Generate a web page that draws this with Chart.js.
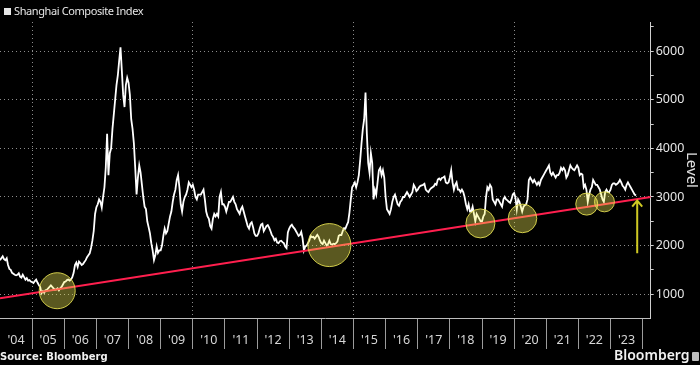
<!DOCTYPE html>
<html>
<head>
<meta charset="utf-8">
<script src="https://cdn.jsdelivr.net/npm/chart.js@4.4.0/dist/chart.umd.min.js"></script>
<style>
  body { margin: 0; background: #000; }
  #wrap { position: relative; width: 700px; height: 365px; background: #000; overflow: hidden; }
  #chart { position: absolute; left: 0; top: 0; }
  .legend { position: absolute; left: 4px; top: 3px; font: 11px 'Noto Sans', sans-serif; letter-spacing: -0.4px; color: #e6e6e6; white-space: nowrap; }
  .legend .sw { display: inline-block; width: 7px; height: 7px; background: #e6e6e6; margin-right: 3px; vertical-align: 0; }
  .source { position: absolute; left: 0; top: 351px; font: bold 10px 'DejaVu Sans', sans-serif; color: #f0f0f0; white-space: nowrap; }
  .brand { position: absolute; left: 614px; top: 345px; font: 600 14px 'Noto Sans', sans-serif; color: #f2f2f2; white-space: nowrap; }
  .brand .icon { position: absolute; left: 78px; top: 7px; width: 7px; height: 9px; background: #bdbdbd; border-radius: 1px; }
</style>
</head>
<body>
<div id="wrap">
  <canvas id="chart" width="700" height="365"></canvas>
  <div class="legend"><span class="sw"></span>Shanghai Composite Index</div>
  <div class="source">Source: Bloomberg</div>
  <div class="brand">Bloomberg<span class="icon"></span></div>
</div>
<script>
// Shanghai Composite, two readings per month
const s2004 = [1700, 1740, 1780, 1720, 1700, 1740, 1600, 1520, 1500, 1440, 1420, 1400, 1390, 1400, 1430, 1360, 1340, 1400, 1350, 1300, 1330, 1280, 1290, 1260];
const s2005 = [1250, 1230, 1270, 1300, 1240, 1190, 1150, 1020, 1060, 1030, 1080, 1090, 1120, 1150, 1180, 1150, 1120, 1090, 1100, 1120, 1080, 1120, 1150, 1200];
const s2006 = [1250, 1260, 1290, 1300, 1280, 1300, 1350, 1440, 1600, 1650, 1560, 1670, 1640, 1600, 1620, 1660, 1700, 1760, 1800, 1840, 1950, 2100, 2300, 2650];
const s2007 = [2790, 2850, 2950, 2900, 2780, 3000, 3200, 3600, 4300, 3450, 3900, 4000, 4400, 4700, 5000, 5300, 5500, 5800, 6080, 5600, 5100, 4850, 5300, 5450];
const s2008 = [5350, 5100, 4600, 4400, 4100, 3600, 3050, 3400, 3650, 3500, 3250, 3000, 2800, 2750, 2500, 2380, 2250, 2050, 1900, 1700, 1800, 1980, 1850, 1900];
const s2009 = [1900, 2000, 2200, 2350, 2250, 2300, 2450, 2600, 2700, 2900, 3050, 3150, 3350, 3450, 3200, 2850, 2700, 2900, 3000, 3050, 3150, 3300, 3250, 3200];
const s2010 = [3250, 3150, 3000, 2950, 3050, 3050, 3050, 3100, 3150, 2950, 2700, 2600, 2550, 2400, 2350, 2550, 2650, 2600, 2650, 2600, 3000, 3100, 2850, 2850];
const s2011 = [2800, 2700, 2800, 2900, 2900, 2950, 3000, 2900, 2850, 2750, 2700, 2650, 2750, 2800, 2700, 2600, 2500, 2400, 2350, 2450, 2480, 2380, 2250, 2200];
const s2012 = [2200, 2250, 2350, 2430, 2450, 2300, 2350, 2400, 2420, 2370, 2300, 2220, 2180, 2110, 2140, 2060, 2050, 2090, 2100, 2070, 2050, 1980, 1950, 2270];
const s2013 = [2350, 2400, 2430, 2380, 2350, 2300, 2250, 2200, 2220, 2280, 2150, 1900, 1980, 2000, 2050, 2100, 2200, 2170, 2180, 2140, 2180, 2220, 2180, 2100];
const s2014 = [2050, 2030, 2100, 2050, 2000, 2030, 2100, 2030, 2020, 2040, 2030, 2050, 2080, 2200, 2220, 2217, 2300, 2360, 2350, 2420, 2480, 2680, 2950, 3200];
const s2015 = [3250, 3300, 3200, 3300, 3450, 3750, 4100, 4400, 4600, 5150, 4300, 3700, 3500, 3900, 3700, 2950, 3150, 3050, 3300, 3550, 3600, 3450, 3550, 3400];
const s2016 = [3000, 2750, 2700, 2650, 2750, 2900, 3000, 3050, 2950, 2850, 2820, 2900, 2930, 3000, 3000, 3050, 3100, 3050, 3000, 3050, 3100, 3250, 3200, 3120];
const s2017 = [3150, 3200, 3230, 3240, 3250, 3270, 3150, 3120, 3100, 3150, 3180, 3200, 3220, 3270, 3250, 3360, 3380, 3350, 3390, 3400, 3420, 3300, 3280, 3300];
const s2018 = [3400, 3550, 3300, 3150, 3250, 3300, 3150, 3150, 3100, 3150, 3100, 3000, 2850, 2750, 2850, 2700, 2700, 2800, 2650, 2500, 2650, 2600, 2550, 2500];
const s2019 = [2500, 2600, 2650, 3000, 3200, 3150, 3250, 3200, 2950, 2900, 2850, 2950, 2950, 2900, 2850, 2800, 2950, 3000, 2950, 2930, 2900, 2880, 2950, 3050];
const s2020 = [3080, 2980, 2750, 2950, 2900, 2800, 2700, 2800, 2830, 2850, 2950, 3350, 3400, 3350, 3300, 3350, 3300, 3250, 3300, 3250, 3350, 3400, 3450, 3500];
const s2021 = [3550, 3600, 3650, 3500, 3450, 3500, 3450, 3400, 3450, 3450, 3500, 3600, 3550, 3600, 3550, 3400, 3450, 3550, 3650, 3600, 3570, 3550, 3600, 3650];
const s2022 = [3600, 3450, 3480, 3460, 3200, 3250, 3150, 2900, 3050, 3150, 3200, 3350, 3300, 3250, 3250, 3200, 3150, 3050, 2950, 2900, 3100, 3150, 3100, 3100];
const s2023 = [3150, 3250, 3280, 3280, 3250, 3270, 3300, 3350, 3300, 3230, 3200, 3150, 3250, 3300, 3250, 3200, 3150, 3100, 3050, 3030];

const years = [2004, 2005, 2006, 2007, 2008, 2009, 2010, 2011, 2012, 2013,
               2014, 2015, 2016, 2017, 2018, 2019, 2020, 2021, 2022, 2023];
const yearly = [s2004, s2005, s2006, s2007, s2008, s2009, s2010, s2011, s2012, s2013,
                s2014, s2015, s2016, s2017, s2018, s2019, s2020, s2021, s2022, s2023];

// axis ticks
const yearTicks = [2004, 2005, 2006, 2007, 2008, 2009, 2010, 2011, 2012, 2013, 2014,
                   2015, 2016, 2017, 2018, 2019, 2020, 2021, 2022, 2023, 2024];
const yearLabels = ["'04", "'05", "'06", "'07", "'08", "'09", "'10", "'11", "'12", "'13",
                    "'14", "'15", "'16", "'17", "'18", "'19", "'20", "'21", "'22", "'23"];
const levelTicks = [1000, 1500, 2000, 2500, 3000, 3500, 4000, 4500, 5000, 5500, 6000, 6500];

// red support line
const trendYears = [2004, 2024.25];
const trendLevels = [915, 3000];

// highlighted touches of the support line
const ringYears = [2005.78, 2014.25, 2018.95, 2020.26, 2022.26, 2022.81];
const ringLevels = [1071, 2010, 2456, 2559, 2853, 2900];
const ringRadii = [18, 21.5, 14.5, 14.3, 11, 10];

// yellow arrow
const arrowYear = 2023.83;
const arrowFrom = 1840;
const arrowTo = 2925;

const linePoints = [];
yearly.forEach((vals, k) => {
  vals.forEach((v, i) => linePoints.push({ x: years[k] + i / 24, y: v }));
});

const arrowPlugin = {
  id: 'arrow',
  afterDatasetsDraw(chart) {
    const { ctx, scales: { x, y } } = chart;
    const px = x.getPixelForValue(arrowYear);
    const top = y.getPixelForValue(arrowTo);
    const bottom = y.getPixelForValue(arrowFrom);
    ctx.save();
    ctx.strokeStyle = '#cfc923';
    ctx.lineWidth = 2;
    ctx.beginPath();
    ctx.moveTo(px, bottom);
    ctx.lineTo(px, top);
    ctx.moveTo(px - 5, top + 6);
    ctx.lineTo(px, top);
    ctx.lineTo(px + 5, top + 6);
    ctx.stroke();
    ctx.restore();
  }
};

const axisFont = { family: "'Noto Sans', sans-serif", size: 12.5 };
const gridGrey = '#8c8c8c';
const isMajorYear = c => c.type === 'tick' && c.tick && c.tick.value % 5 === 0;
const isMajorLevel = c => c.type === 'tick' && c.tick && c.tick.value % 1000 === 0;

new Chart(document.getElementById('chart'), {
  type: 'line',
  data: {
    datasets: [
      {
        type: 'bubble',
        data: ringYears.map((x, i) => ({ x, y: ringLevels[i], r: ringRadii[i] })),
        backgroundColor: 'rgba(250,245,90,0.36)',
        borderColor: 'rgba(225,220,80,0.9)',
        borderWidth: 1,
        order: 0,
      },
      {
        data: trendYears.map((x, i) => ({ x, y: trendLevels[i] })),
        borderColor: '#ff1f4e',
        borderWidth: 2,
        pointRadius: 0,
        order: 1,
      },
      {
        data: linePoints,
        borderColor: '#ffffff',
        borderWidth: 1.8,
        pointRadius: 0,
        tension: 0,
        order: 2,
      },
    ],
  },
  options: {
    responsive: false,
    animation: false,
    events: [],
    layout: { autoPadding: false, padding: { top: 22, left: 0, right: 0, bottom: 0 } },
    plugins: { legend: { display: false }, tooltip: { enabled: false } },
    scales: {
      x: {
        type: 'linear',
        min: 2004,
        max: 2024.25,
        afterBuildTicks: s => { s.ticks = yearTicks.map(v => ({ value: v })); },
        afterFit: s => { s.height = 47; s.paddingLeft = 0; s.paddingRight = 0; },
        grid: {
          color: c => isMajorYear(c) ? gridGrey : 'rgba(0,0,0,0)',
          tickColor: c => (c.tick && c.tick.value === 2004) ? 'rgba(0,0,0,0)' : '#9c9c9c',
          tickLength: 31,
          lineWidth: 1,
        },
        border: { color: '#bdbdbd', dash: [1, 3] },
        ticks: {
          autoSkip: false,
          maxRotation: 0,
          labelOffset: 16,
          padding: -16,
          color: '#d6d6d6',
          font: axisFont,
          callback: (v, i) => yearLabels[i] || '',
        },
      },
      y: {
        type: 'linear',
        position: 'right',
        min: 510,
        max: 6600,
        afterBuildTicks: s => { s.ticks = levelTicks.map(v => ({ value: v })); },
        afterFit: s => { s.width = 49.3; s.paddingTop = 0; s.paddingBottom = 0; },
        grid: {
          color: c => isMajorLevel(c) ? gridGrey : 'rgba(0,0,0,0)',
          tickColor: '#cfcfcf',
          tickLength: 3,
        },
        border: { color: '#cfcfcf', dash: [1, 3] },
        ticks: {
          padding: 2,
          color: '#e6e6e6',
          font: axisFont,
          callback: v => (v % 1000 === 0 ? String(v) : ''),
        },
        title: {
          display: true,
          text: 'Level',
          color: '#e0e0e0',
          font: { family: "'Noto Sans', sans-serif", size: 15 },
          padding: 0,
        },
      },
    },
  },
  plugins: [arrowPlugin],
});
</script>
</body>
</html>
